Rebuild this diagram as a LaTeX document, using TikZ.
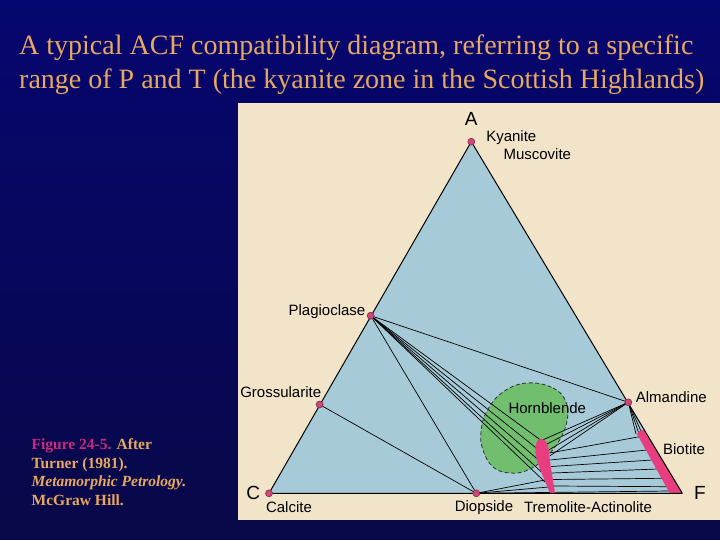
\documentclass[tikz,border=0pt]{standalone}
\usepackage{fontspec}
\setmainfont{Liberation Serif}
\newfontfamily\labfont{Liberation Sans}
\definecolor{bgtop}{RGB}{6,6,112}
\definecolor{bgbot}{RGB}{8,8,72}
\definecolor{paper}{RGB}{242,228,200}
\definecolor{triblue}{RGB}{166,202,216}
\definecolor{hbgreen}{RGB}{112,190,110}
\definecolor{minpink}{RGB}{232,62,128}
\definecolor{dotpink}{RGB}{205,72,118}
\definecolor{dotedge}{RGB}{130,30,70}
\definecolor{titletan}{RGB}{232,168,96}
\definecolor{figmag}{RGB}{205,40,125}
\begin{document}
\begin{tikzpicture}[x=1pt,y=-1pt,
  tie/.style={black, line width=0.7pt},
  triedge/.style={black, line width=1pt},
  phasedot/.style={circle, fill=dotpink, draw=dotedge, line width=0.5pt, inner sep=0pt, minimum size=7pt},
  lbl/.style={font=\labfont\fontsize{15}{16}\selectfont, inner sep=0pt, text=black},
  vtx/.style={font=\labfont\fontsize{19}{20}\selectfont, inner sep=0pt, text=black},
  ttl/.style={font=\fontsize{28}{30}\selectfont, text=titletan, inner sep=0pt, anchor=base west},
  capt/.style={font=\bfseries\fontsize{15.5}{17}\selectfont, text=titletan, inner sep=0pt, anchor=base west}]
\useasboundingbox (0,0) rectangle (720,540);
\shade[top color=bgtop, bottom color=bgbot] (0,0) rectangle (720,540);
\fill[paper] (238,103) rectangle (720,520);

% vertices and phases
\coordinate (A) at (471.3,141.7);
\coordinate (C) at (269,493.3);
\coordinate (F) at (682.3,493.3);
\coordinate (plag) at (370.7,315.7);
\coordinate (gross) at (319.6,404.5);
\coordinate (alm) at (628.3,402.3);
\coordinate (diop) at (476.3,493.3);

\fill[triblue] (A) -- (C) -- (F) -- cycle;

% hornblende field
\fill[hbgreen] plot[smooth cycle, tension=0.7] coordinates {(527,383) (553,388) (566,402) (567,421) (559,441) (545,458) (528,470) (510,473) (493,467) (483,450) (481,432) (487,411) (503,392)};

% points on tremolite-actinolite
\coordinate (t1) at (540.5,440);
\coordinate (t2) at (537.5,449);
\coordinate (t3) at (538.5,460);
\coordinate (t4) at (541.5,472);
\coordinate (t5) at (545,482);
\coordinate (r1) at (542.5,440);
\coordinate (r2) at (547,444);
\coordinate (r3) at (548.8,450);
\coordinate (r4) at (549.6,456);
\coordinate (s1) at (549.5,453);
\coordinate (s2) at (550.3,460);
\coordinate (s3) at (551,466.5);
\coordinate (s4) at (551.6,473);
\coordinate (s5) at (552.2,479.5);
\coordinate (s6) at (552.8,486);
\coordinate (d1) at (545,480);
\coordinate (d2) at (549,487);
% points on biotite
\coordinate (b1) at (639.6,436.7);
\coordinate (b2) at (646.9,450);
\coordinate (b3) at (652.5,460);
\coordinate (b4) at (657.5,469);
\coordinate (b5) at (662.8,478.3);
\coordinate (b6) at (667.5,486.7);
\coordinate (b7) at (670,491);
\coordinate (a1) at (636,434);
\coordinate (a2) at (638.5,432.5);
\coordinate (a3) at (641,431.3);

% tie lines
\draw[tie] (gross) -- (diop);
\draw[tie] (plag) -- (diop);
\draw[tie] (plag) -- (alm);
\foreach \p in {t1,t2,t3,t4,t5} \draw[tie] (plag) -- (\p);
\foreach \p in {r1,r2,r3,r4,a1,a2,a3} \draw[tie] (alm) -- (\p);
\draw[tie] (s1) -- (b1);
\draw[tie] (s2) -- (b2);
\draw[tie] (s3) -- (b3);
\draw[tie] (s4) -- (b4);
\draw[tie] (s5) -- (b5);
\draw[tie] (s6) -- (b6);
\draw[tie] (diop) -- (d1);
\draw[tie] (diop) -- (d2);
\draw[tie] (diop) -- (b7);

% hornblende dashed outline
\draw[black!80, line width=0.8pt, dash pattern=on 4pt off 2.5pt] plot[smooth cycle, tension=0.7] coordinates {(527,383) (553,388) (566,402) (567,421) (559,441) (545,458) (528,470) (510,473) (493,467) (483,450) (481,432) (487,411) (503,392)};

% tremolite-actinolite
\fill[minpink] (541,438.8) .. controls (545.5,439) and (548.3,444) .. (549,452)
  .. controls (550.5,468) and (553.5,482) .. (555,493.3) -- (550,493.3)
  .. controls (545,480) and (536,463) .. (535.3,452)
  .. controls (535,444) and (537,438.8) .. (541,438.8) -- cycle;
% biotite
\fill[minpink] (637,434) .. controls (638,431.5) and (641,429.5) .. (643.8,429.5) -- (682.3,493.3) -- (669.8,493.3) -- cycle;

% triangle edges
\draw[triedge, line join=round] (A) -- (C) -- (F) -- cycle;

% dots
\node[phasedot] (nA) at (A) {};
\node[phasedot] (nC) at (C) {};
\node[phasedot] (nplag) at (plag) {};
\node[phasedot] (ngross) at (gross) {};
\node[phasedot] (nalm) at (alm) {};
\node[phasedot] (ndiop) at (diop) {};

% labels
\node[vtx] (lA) at (471.3,119) {A};
\node[vtx] (lC) at (253.3,493) {C};
\node[vtx] (lF) at (700,493) {F};
\node[lbl] (lky) at (511.3,137.7) {Kyanite};
\node[lbl] (lmu) at (537.3,154.3) {Muscovite};
\node[lbl, anchor=east] (lpl) at (365.5,312) {Plagioclase};
\node[lbl] (lgr) at (280.7,391.7) {Grossularite};
\node[lbl] (lal) at (671.3,397.3) {Almandine};
\node[lbl] (lhb) at (547.3,408.3) {Hornblende};
\node[lbl] (lbi) at (684,449.3) {Biotite};
\node[lbl] (lca) at (289,507.3) {Calcite};
\node[lbl] (ldi) at (484,507.3) {Diopside};
\node[lbl] (ltr) at (588,507.3) {Tremolite-Actinolite};

% title
\node[ttl] (t1l) at (19,55) {A typical ACF compatibility diagram, referring to a specific};
\node[ttl] (t2l) at (19,88.5) {range of P and T (the kyanite zone in the Scottish Highlands)};

% caption
\node[capt] (c1) at (31.5,449.5) {\textcolor{figmag}{Figure 24-5.} After};
\node[capt] (c2) at (31.5,468) {Turner (1981).};
\node[capt] (c3) at (31.5,486.7) {\itshape Metamorphic Petrology.};
\node[capt] (c4) at (31.5,505) {McGraw Hill.};
\end{tikzpicture}
\end{document}
